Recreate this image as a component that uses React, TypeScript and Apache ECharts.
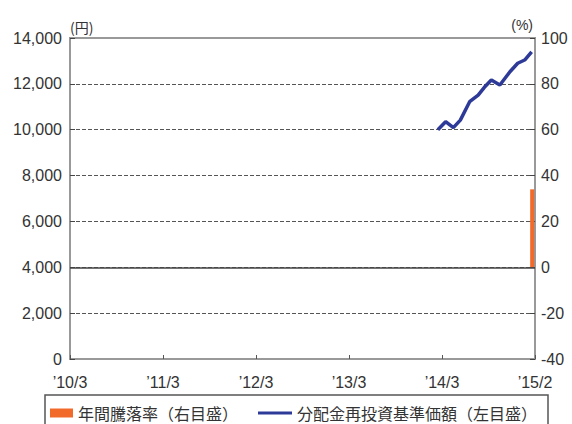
import React, { useEffect, useRef } from "react";
import * as echarts from "echarts";

const xTickLabels = ["’10/3", "’11/3", "’12/3", "’13/3", "’14/3", "’15/2"];
const leftTicks = [0, 2000, 4000, 6000, 8000, 10000, 12000, 14000];
const navDates = [
  "2014/02/15", "2014/03/15", "2014/04/15", "2014/05/12", "2014/06/18", "2014/07/21",
  "2014/08/15", "2014/09/12", "2014/10/15", "2014/11/24", "2014/12/24", "2015/01/21", "2015/02/18",
];
const navValues = [10000, 10350, 10090, 10420, 11220, 11510, 11850, 12170, 11950, 12530, 12900, 13040, 13400];
const returnDates = ["2015/02/20"];
const returnValues = [34];

const seriesNames = ["年間騰落率（右目盛）", "分配金再投資基準価額（左目盛）"];

function monthIndex(d: string): number {
  const [y, m, day] = d.split("/").map(Number);
  return (y - 2010) * 12 + (m - 3) + (day - 1) / 30;
}

export default function App() {
  const ref = useRef<HTMLDivElement>(null);
  useEffect(() => {
    if (!ref.current) return;
    const chart = echarts.init(ref.current, undefined, { renderer: "svg" });
    const numFont = "Liberation Sans, Arial, sans-serif";
    const cjkFont = "Noto Sans CJK JP, sans-serif";
    chart.setOption({
      animation: false,
      textStyle: { fontFamily: numFont },
      grid: {
        left: 70, right: 37, top: 38, bottom: 65,
        show: true, borderColor: "#999", borderWidth: 2,
      },
      xAxis: {
        type: "value", min: 0, max: 60, interval: 12,
        axisLine: { lineStyle: { color: "#999", width: 2 } },
        axisTick: { show: true, inside: true, length: 4, lineStyle: { color: "#555" } },
        splitLine: { show: false },
        axisLabel: {
          margin: 15, fontSize: 16, color: "#333", fontFamily: numFont,
          formatter: (v: number) => xTickLabels[Math.round(v / 12)] ?? "",
        },
      },
      yAxis: [
        {
          type: "value", min: leftTicks[0], max: leftTicks[leftTicks.length - 1], interval: 2000,
          axisLine: { show: true, lineStyle: { color: "#999", width: 2 } },
          axisTick: { show: true, inside: true, length: 5, lineStyle: { color: "#444" } },
          splitLine: {
            show: true, showMinLine: false, showMaxLine: false,
            lineStyle: { color: "#555", width: 1, type: [4, 2] },
          },
          axisLabel: {
            margin: 8, fontSize: 16, color: "#333", fontFamily: numFont,
            formatter: (v: number) => v.toLocaleString("en-US"),
          },
        },
        {
          type: "value", min: -40, max: 100, interval: 20, position: "right",
          axisLine: { show: true, lineStyle: { color: "#999", width: 2 } },
          axisTick: { show: true, inside: true, length: 5, lineStyle: { color: "#444" } },
          splitLine: { show: false },
          axisLabel: { margin: 6, fontSize: 16, color: "#333", fontFamily: numFont },
        },
      ],
      legend: [
        {
          data: [{ name: seriesNames[0], icon: "rect" }], left: 50, top: 405, padding: 0,
          itemWidth: 23, itemHeight: 9,
          textStyle: { fontSize: 16, color: "#333", fontFamily: cjkFont },
          selectedMode: false,
        },
        {
          data: [{ name: seriesNames[1], icon: "rect", itemStyle: { color: "#2e3a97" } }],
          left: 258, top: 405, padding: 0,
          itemWidth: 34, itemHeight: 3,
          textStyle: { fontSize: 16, color: "#333", fontFamily: cjkFont },
          selectedMode: false,
        },
      ],
      graphic: [
        {
          type: "rect", shape: { x: 45, y: 395, width: 503, height: 45 },
          style: { fill: "none", stroke: "#555", lineWidth: 1.5 }, silent: true,
        },
        {
          type: "text", x: 70, y: 27,
          style: { text: "(円)", fontSize: 14, fill: "#333", fontFamily: cjkFont, verticalAlign: "middle", align: "left" },
        },
        {
          type: "text", x: 533, y: 25,
          style: { text: "(%)", fontSize: 14, fill: "#333", fontFamily: numFont, verticalAlign: "middle", align: "right" },
        },
      ],
      series: [
        {
          name: seriesNames[0], type: "bar", yAxisIndex: 1, barWidth: 4,
          itemStyle: { color: "#f26a2a" },
          data: returnDates.map((d, i) => [monthIndex(d), returnValues[i]]),
          markLine: {
            silent: true, symbol: ["none", "none"], label: { show: false },
            lineStyle: { color: "#444", width: 1.5, type: "solid" },
            data: [{ yAxis: 0 }],
          },
        },
        {
          name: seriesNames[1], type: "line", yAxisIndex: 0, symbol: "none", showSymbol: false,
          lineStyle: { color: "#2e3a97", width: 3.5 }, itemStyle: { color: "#2e3a97" },
          data: navDates.map((d, i) => [monthIndex(d), navValues[i]]),
        },
      ],
    });
    return () => chart.dispose();
  }, []);
  return <div ref={ref} style={{ position: "absolute", left: 0, top: 0, width: 572, height: 424 }} />;
}
